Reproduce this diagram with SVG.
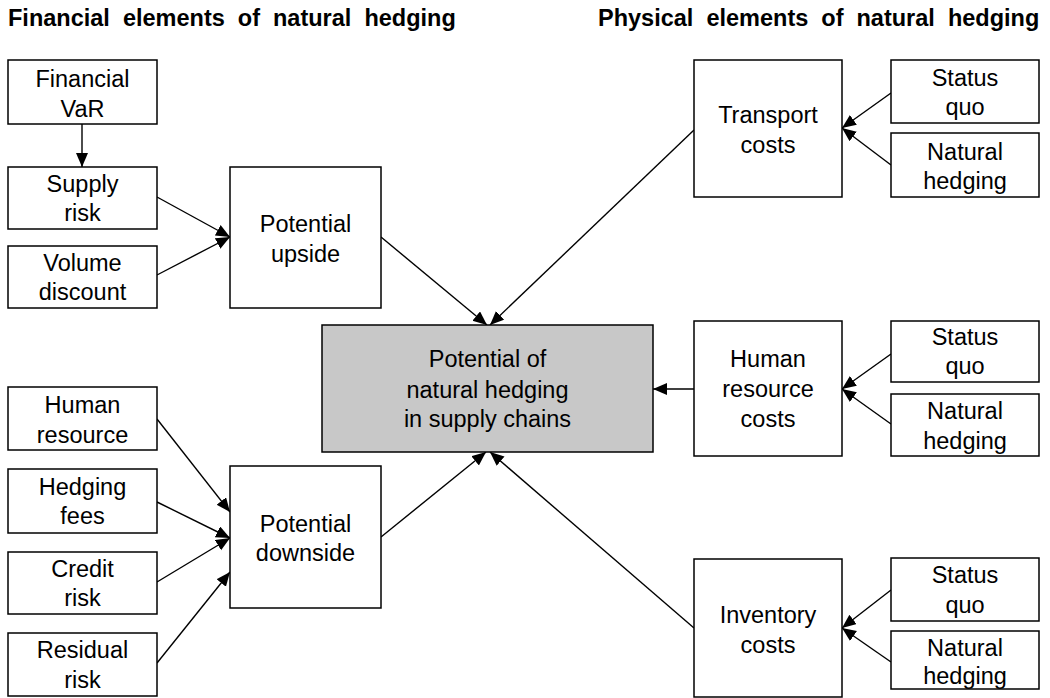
<svg xmlns="http://www.w3.org/2000/svg" width="1050" height="698" viewBox="0 0 1050 698">
<defs>
<marker id="ah" markerUnits="userSpaceOnUse" markerWidth="15" markerHeight="13" refX="14" refY="6" orient="auto">
<path d="M0,0 L14,6 L0,12 z" fill="#000"/>
</marker>
<style>
rect.box{fill:#fff;stroke:#000;stroke-width:1.5}
rect.main{fill:#c8c8c8}
text{font-family:"Liberation Sans",Arial,sans-serif;font-size:23.5px;fill:#000;text-anchor:middle}
text.title{font-weight:bold;font-size:23.5px;text-anchor:start;word-spacing:6.5px}
.conn line{stroke:#000;stroke-width:1.4;marker-end:url(#ah)}
</style>
</defs>
<rect width="1050" height="698" fill="#fff"/>
<text class="title" x="8" y="26">Financial elements of natural hedging</text>
<text class="title" x="598" y="26">Physical elements of natural hedging</text>

<g class="conn" id="connectors">
<line x1="82" y1="124" x2="82" y2="167"/>
<line x1="157" y1="197" x2="230" y2="237"/>
<line x1="157" y1="275" x2="230" y2="237"/>
<line x1="157" y1="419" x2="230" y2="512"/>
<line x1="157" y1="502" x2="230" y2="538"/>
<line x1="157" y1="582" x2="230" y2="538"/>
<line x1="157" y1="663" x2="230" y2="572"/>
<line x1="381" y1="237" x2="487" y2="325"/>
<line x1="381" y1="537" x2="486" y2="452"/>
<line x1="694" y1="130" x2="490" y2="325"/>
<line x1="694" y1="389" x2="653" y2="389"/>
<line x1="694" y1="628" x2="490" y2="452"/>
<line x1="891" y1="93" x2="842" y2="128"/>
<line x1="891" y1="165" x2="842" y2="128"/>
<line x1="891" y1="354" x2="842" y2="389"/>
<line x1="891" y1="424" x2="842" y2="389"/>
<line x1="891" y1="590" x2="842" y2="628"/>
<line x1="891" y1="662" x2="842" y2="628"/>
</g>

<g id="financial-var"><rect class="box" x="8" y="60" width="149" height="64"/><text x="82.5" y="87">Financial</text><text x="82.5" y="117">VaR</text></g>
<g id="supply-risk"><rect class="box" x="8" y="167" width="149" height="62"/><text x="82.5" y="192">Supply</text><text x="82.5" y="221">risk</text></g>
<g id="volume-discount"><rect class="box" x="8" y="246" width="149" height="62"/><text x="82.5" y="271">Volume</text><text x="82.5" y="300">discount</text></g>
<g id="potential-upside"><rect class="box" x="230" y="167" width="151" height="141"/><text x="305.5" y="232">Potential</text><text x="305.5" y="262">upside</text></g>
<g id="human-resource"><rect class="box" x="8" y="387" width="149" height="63"/><text x="82.5" y="413">Human</text><text x="82.5" y="443">resource</text></g>
<g id="hedging-fees"><rect class="box" x="8" y="469" width="149" height="64"/><text x="82.5" y="495">Hedging</text><text x="82.5" y="524">fees</text></g>
<g id="credit-risk"><rect class="box" x="8" y="552" width="149" height="62"/><text x="82.5" y="577">Credit</text><text x="82.5" y="606">risk</text></g>
<g id="residual-risk"><rect class="box" x="8" y="633" width="149" height="63"/><text x="82.5" y="658">Residual</text><text x="82.5" y="688">risk</text></g>
<g id="potential-downside"><rect class="box" x="230" y="466" width="151" height="142"/><text x="305.5" y="532">Potential</text><text x="305.5" y="561">downside</text></g>
<g id="center"><rect class="box main" x="322" y="325" width="331" height="127"/><text x="487.5" y="367">Potential of</text><text x="487.5" y="398">natural hedging</text><text x="487.5" y="427">in supply chains</text></g>
<g id="transport-costs"><rect class="box" x="694" y="60" width="148" height="137"/><text x="768" y="123">Transport</text><text x="768" y="153">costs</text></g>
<g id="status-quo-1"><rect class="box" x="891" y="60" width="148" height="63"/><text x="965" y="86">Status</text><text x="965" y="115">quo</text></g>
<g id="natural-hedging-1"><rect class="box" x="891" y="133" width="148" height="64"/><text x="965" y="160">Natural</text><text x="965" y="189">hedging</text></g>
<g id="hr-costs"><rect class="box" x="694" y="321" width="148" height="135"/><text x="768" y="367">Human</text><text x="768" y="397">resource</text><text x="768" y="427">costs</text></g>
<g id="status-quo-2"><rect class="box" x="891" y="321" width="148" height="61"/><text x="965" y="345">Status</text><text x="965" y="374">quo</text></g>
<g id="natural-hedging-2"><rect class="box" x="891" y="394" width="148" height="62"/><text x="965" y="419">Natural</text><text x="965" y="449">hedging</text></g>
<g id="inventory-costs"><rect class="box" x="694" y="559" width="148" height="138"/><text x="768" y="623">Inventory</text><text x="768" y="653">costs</text></g>
<g id="status-quo-3"><rect class="box" x="891" y="558" width="148" height="63"/><text x="965" y="583">Status</text><text x="965" y="613">quo</text></g>
<g id="natural-hedging-3"><rect class="box" x="891" y="631" width="148" height="58"/><text x="965" y="656">Natural</text><text x="965" y="684">hedging</text></g>
</svg>
